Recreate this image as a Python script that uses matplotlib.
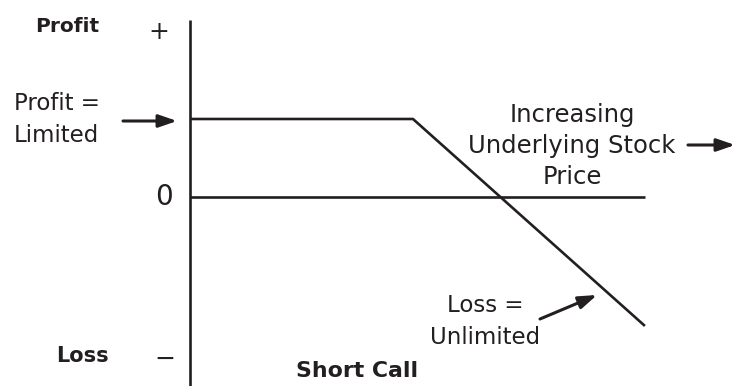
import matplotlib
matplotlib.use("Agg")
import matplotlib.pyplot as plt

# ---- data (short call payoff) ----
price = [0, 50, 102]          # underlying stock price: origin, strike, right end
profit = [5, 5, -8.27]        # profit at those prices (premium = limited profit)
zero_line_x = [0, 102]
axis_top, axis_bottom = 11.35, -12.12

W, H = 735, 386
fig = plt.figure(figsize=(W / 100, H / 100), dpi=100)
ax = fig.add_axes([0, 0, 1, 1])
ax.set_xlim(-42.6, 122.2)
ax.set_ylim(-12.12, 12.63)
ax.axis("off")

col = "#231f20"
lw = 1.9
ax.plot([0, 0], [axis_bottom, axis_top], color=col, lw=lw, solid_capstyle="butt")
ax.plot(zero_line_x, [0, 0], color=col, lw=lw, solid_capstyle="butt")
ax.plot(price, profit, color=col, lw=lw, solid_capstyle="butt")

def P(x, y):
    return (x / W, 1 - y / H)

fam = "DejaVu Sans"
def txt(x, y, s, size, weight="normal", ha="center", ls=1.2):
    fig.text(*P(x, y), s, fontsize=size, fontweight=weight, ha=ha, va="center",
             color=col, family=fam, linespacing=ls)

txt(67, 27, "Profit", 14.5, "bold")
txt(159, 32, "+", 18)
txt(14, 119, "Profit =\nLimited", 16.5, ha="left", ls=1.5)
txt(164, 197, "0", 20)
txt(82, 356, "Loss", 15, "bold")
txt(165, 359, "−", 18)
txt(357, 371, "Short Call", 15.8, "bold")
txt(572, 146, "Increasing\nUnderlying Stock\nPrice", 17.5, ls=1.38)
txt(485, 321, "Loss =\nUnlimited", 16.5, ls=1.5)

arrow = dict(arrowstyle="-|>,head_length=1.1,head_width=0.38", color=col, lw=2.2,
             shrinkA=0, shrinkB=0)
ax.annotate("", xy=P(177, 121), xytext=P(123, 121), xycoords="figure fraction",
            textcoords="figure fraction", arrowprops=arrow)
ax.annotate("", xy=P(735, 145), xytext=P(688, 145), xycoords="figure fraction",
            textcoords="figure fraction", arrowprops=arrow)
ax.annotate("", xy=P(597, 295), xytext=P(540, 319), xycoords="figure fraction",
            textcoords="figure fraction", arrowprops=arrow)

fig.savefig("out.png", dpi=100, facecolor="white")
